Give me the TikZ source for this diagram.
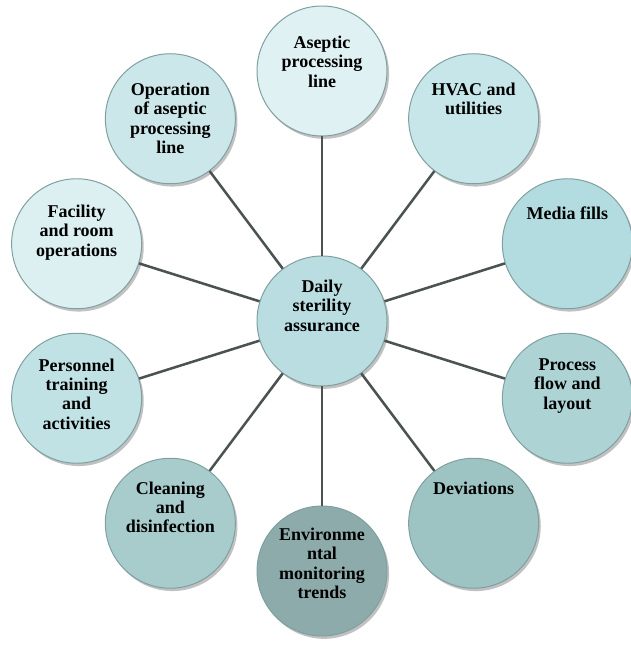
\documentclass[tikz,border=0pt]{standalone}
\usepackage{fontspec}
\setmainfont{Liberation Serif}
\usetikzlibrary{shadows}

\definecolor{spokecol}{HTML}{4A5252}
\definecolor{rim}{HTML}{7F9FA0}
\definecolor{hubfill}{HTML}{B9DDE0}
\definecolor{asepfill}{HTML}{DFF1F3}
\definecolor{hvacfill}{HTML}{C6E6E9}
\definecolor{mediafill}{HTML}{B2DCDF}
\definecolor{flowfill}{HTML}{ADD3D5}
\definecolor{devfill}{HTML}{9DC3C3}
\definecolor{envfill}{HTML}{8EABAB}
\definecolor{cleanfill}{HTML}{A8CCCC}
\definecolor{persfill}{HTML}{C0E2E4}
\definecolor{facfill}{HTML}{DCF0F2}
\definecolor{operfill}{HTML}{CCE7EA}

\begin{document}
\begin{tikzpicture}[
  bubble/.style={circle, draw=rim, line width=0.7pt, minimum size=3.25cm, inner sep=0pt,
    drop shadow={shadow xshift=1.5pt, shadow yshift=-2pt, opacity=0.35, fill=black!70}},
  caption/.style={anchor=north, align=center, inner sep=0pt,
    font=\bfseries\fontsize{12.8}{13.8}\selectfont},
  spoke/.style={draw=spokecol, line width=1.8pt}
]
\useasboundingbox (-8.05,-8.525) rectangle (7.7,8.025);

% hub in the middle
\node[bubble, fill=hubfill] (hub) at (0,0) {};
\node[caption, yshift=1.03cm] (hubtext) at (hub.center) {Daily\\sterility\\assurance};

% ten bubbles round the hub, 36 degrees apart
% name / angle / fill / rise of the text top above the centre / text
\foreach \nm/\ang/\col/\dy/\txt in {
  asep/90/asepfill/0.88/{Aseptic\\processing\\line},
  hvac/54/hvacfill/0.9/{HVAC and\\utilities},
  media/18/mediafill/0.93/{Media fills},
  flow/-18/flowfill/1.0/{Process\\flow and\\layout},
  dev/-54/devfill/1.05/{Deviations},
  env/-90/envfill/1.08/{Environme\\ntal\\monitoring\\trends},
  clean/-126/cleanfill/1.05/{Cleaning\\and\\disinfection},
  pers/-162/persfill/1.0/{Personnel\\training\\and\\activities},
  fac/162/facfill/0.98/{Facility\\and room\\operations},
  oper/126/operfill/0.9/{Operation\\of aseptic\\processing\\line}%
}{
  \node[bubble, fill=\col] (\nm) at (\ang:6.45 and 6.25) {};
  \node[caption, yshift=\dy cm] (\nm text) at (\nm.center) {\txt};
  \draw[spoke] (hub) -- (\nm);
}
\end{tikzpicture}
\end{document}
